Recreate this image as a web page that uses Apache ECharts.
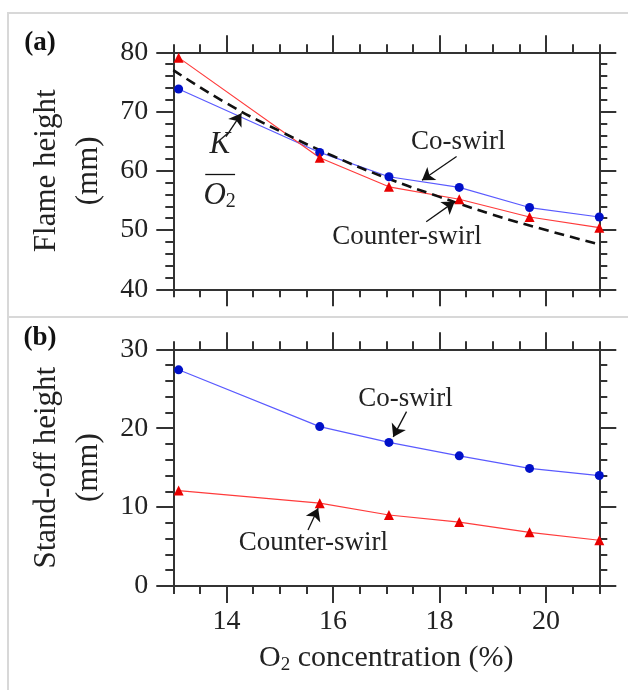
<!DOCTYPE html>
<html>
<head>
<meta charset="utf-8">
<script src="https://cdn.jsdelivr.net/npm/echarts@6/dist/echarts.min.js"></script>
<style>
html,body{margin:0;padding:0;background:#fff;}
#chart{width:628px;height:690px;}
</style>
</head>
<body>
<div id="chart"></div>
<script>
// ---- data ----
const o2 = [13.1, 15.75, 17.05, 18.37, 19.69, 21.0];
const flameCo = [73.8, 63.1, 59.0, 57.2, 53.8, 52.2];
const flameCounter = [79.1, 62.2, 57.3, 55.2, 52.2, 50.4];
const fitX = [13, 14, 15, 16, 17, 18, 19, 20, 21];
const fitY = [77.0, 71.4, 66.7, 62.5, 58.8, 55.6, 52.6, 50.0, 47.6];
const standCo = [27.4, 20.2, 18.2, 16.5, 14.9, 14.0];
const standCounter = [12.1, 10.5, 9.0, 8.1, 6.8, 5.8];
const xMajorTicks = [14, 16, 18, 20];
const xRange = [13, 21];
const flameRange = [40, 80];
const standRange = [0, 30];

const FONT = "'Liberation Serif','Times New Roman',serif";
const AX = '#333';
const BLUE_LINE = '#5a5aff', BLUE_PT = '#0010c8';
const RED_LINE = '#ff3b3b', RED_PT = '#e80000';

function pairs(xs, ys){ return xs.map((x,i)=>[x, ys[i]]); }

function xAxisPair(grid, pos, labels){
  const common = {type:'value', gridIndex:grid, position:pos, min:xRange[0], max:xRange[1], offset:0,
    splitLine:{show:false}, axisLine:{onZero:false, lineStyle:{color:AX, width:2}}};
  return [
    Object.assign({}, common, {
      axisTick:{show:true, inside:false, length:17, customValues:xMajorTicks, lineStyle:{color:AX, width:2}},
      axisLabel:{show:labels, customValues:xMajorTicks, margin:22, fontSize:28, fontFamily:FONT, color:'#222'},
      name: labels ? '{o|O}{s|2}{o| concentration (%)}' : '',
      nameLocation:'middle', nameGap:56,
      nameTextStyle:{fontFamily:FONT, color:'#222', fontSize:30,
        rich:{o:{fontSize:30, fontFamily:FONT, color:'#222'}, s:{fontSize:19, fontFamily:FONT, color:'#222', padding:[14,0,0,0]}}}
    }),
    Object.assign({}, common, {
      interval:0.5,
      axisTick:{show:true, inside:false, length:8, lineStyle:{color:AX, width:2}},
      axisLabel:{show:false}
    })
  ];
}
function yAxisPair(grid, range, name, nameGap){
  const common = {type:'value', gridIndex:grid, min:range[0], max:range[1], interval:10,
    splitLine:{show:false}, axisLine:{show:true, onZero:false, lineStyle:{color:AX, width:2}},
    axisTick:{show:true, inside:false, length:17, lineStyle:{color:AX, width:2}},
    minorTick:{show:true, splitNumber:5, length:8, lineStyle:{color:AX, width:2}},
    minorSplitLine:{show:false}};
  return [
    Object.assign({}, common, {position:'left',
      axisLabel:{show:true, margin:25, fontSize:28, fontFamily:FONT, color:'#222'},
      name:name, nameLocation:'middle', nameRotate:90, nameGap:nameGap,
      nameTextStyle:{fontSize:31, fontFamily:FONT, color:'#222', lineHeight:42}}),
    Object.assign({}, common, {position:'right', axisLabel:{show:false}})
  ];
}

function textPt(x, y, txt, size){
  return {coord:[x,y], value:txt, label:{formatter:txt, fontSize:size||27}};
}
function arrow(x1,y1,x2,y2){
  return [{coord:[x1,y1], symbol:'none'},{coord:[x2,y2], symbol:'arrow', symbolSize:12}];
}
const markTextBase = {symbol:'circle', symbolSize:1, silent:true, itemStyle:{color:'rgba(0,0,0,0)'},
  label:{show:true, position:'inside', color:'#222', fontFamily:FONT, fontSize:27}};
const arrowBase = {silent:true, symbol:['none','arrow'], symbolSize:12, animation:false,
  lineStyle:{color:'#111', width:1.3, type:'solid'}, itemStyle:{color:'#111'}, label:{show:false}, emphasis:{disabled:true}};

const option = {
  animation:false,
  grid:[
    {left:173.3, right:28.7, top:52.3, height:237},
    {left:173.3, right:28.7, top:349.3, height:236.7}
  ],
  graphic:[
    {type:'rect', shape:{x:8, y:13, width:640, height:304}, style:{fill:'none', stroke:'#d8d8d8', lineWidth:2}, silent:true},
    {type:'rect', shape:{x:8, y:317, width:640, height:400}, style:{fill:'none', stroke:'#d8d8d8', lineWidth:2}, silent:true},
    {type:'text', x:40, y:43, style:{text:'(a)', font:"bold 27px 'Liberation Serif',serif", fill:'#111', textAlign:'center', textVerticalAlign:'middle'}},
    {type:'text', x:40, y:338, style:{text:'(b)', font:"bold 27px 'Liberation Serif',serif", fill:'#111', textAlign:'center', textVerticalAlign:'middle'}}
  ],
  xAxis: [].concat(xAxisPair(0,'bottom',false), xAxisPair(0,'top',false), xAxisPair(1,'bottom',true), xAxisPair(1,'top',false)),
  yAxis: [].concat(yAxisPair(0, flameRange, 'Flame height\n(mm)', 62), yAxisPair(1, standRange, 'Stand-off height\n(mm)', 62)),
  series:[
    {type:'line', name:'Co-swirl (a)', xAxisIndex:0, yAxisIndex:0, data:pairs(o2, flameCo),
      symbol:'circle', symbolSize:9, lineStyle:{color:BLUE_LINE, width:1.2}, itemStyle:{color:BLUE_PT},
      markPoint:Object.assign({}, markTextBase, {data:[textPt(18.35, 64.8, 'Co-swirl')]}),
      markLine:Object.assign({}, arrowBase, {data:[arrow(18.32, 62.4, 17.67, 58.4)]})},
    {type:'line', name:'Counter-swirl (a)', xAxisIndex:0, yAxisIndex:0, data:pairs(o2, flameCounter),
      symbol:'triangle', symbolSize:10, lineStyle:{color:RED_LINE, width:1.2}, itemStyle:{color:RED_PT},
      markPoint:Object.assign({}, markTextBase, {data:[textPt(17.39, 48.9, 'Counter-swirl')]}),
      markLine:Object.assign({}, arrowBase, {data:[arrow(17.75, 51.4, 18.285, 54.8)]})},
    {type:'line', name:'K/O2', xAxisIndex:0, yAxisIndex:0, data:pairs(fitX, fitY), smooth:true,
      symbol:'none', lineStyle:{color:'#111', width:2.6, type:[10,6]},
      markPoint:Object.assign({}, markTextBase, {data:[
        {coord:[13.876, 64.4], value:'K', label:{formatter:'K', fontSize:31, fontStyle:'italic'}},
        {coord:[13.87, 55.8], value:'O2', label:{formatter:'{i|O}{s|2}', rich:{i:{fontSize:31, fontStyle:'italic', fontFamily:FONT, color:'#222'}, s:{fontSize:20, fontFamily:FONT, color:'#222', padding:[12,0,0,0]}}}}
      ]}),
      markLine:Object.assign({}, arrowBase, {data:[
        arrow(13.99, 65.75, 14.28, 69.7),
        [{coord:[13.60, 59.46], symbol:'none'},{coord:[14.16, 59.46], symbol:'none'}]
      ]})},
    {type:'line', name:'Co-swirl (b)', xAxisIndex:4, yAxisIndex:2, data:pairs(o2, standCo),
      symbol:'circle', symbolSize:9, lineStyle:{color:BLUE_LINE, width:1.2}, itemStyle:{color:BLUE_PT},
      markPoint:Object.assign({}, markTextBase, {data:[textPt(17.36, 23.7, 'Co-swirl')]}),
      markLine:Object.assign({}, arrowBase, {data:[arrow(17.38, 22.1, 17.13, 18.9)]})},
    {type:'line', name:'Counter-swirl (b)', xAxisIndex:4, yAxisIndex:2, data:pairs(o2, standCounter),
      symbol:'triangle', symbolSize:10, lineStyle:{color:RED_LINE, width:1.2}, itemStyle:{color:RED_PT},
      markPoint:Object.assign({}, markTextBase, {data:[textPt(15.63, 5.5, 'Counter-swirl')]}),
      markLine:Object.assign({}, arrowBase, {data:[arrow(15.53, 7.1, 15.72, 9.85)]})}
  ]
};
const chart = echarts.init(document.getElementById('chart'), null, {renderer:'canvas'});
chart.setOption(option);
</script>
</body>
</html>
